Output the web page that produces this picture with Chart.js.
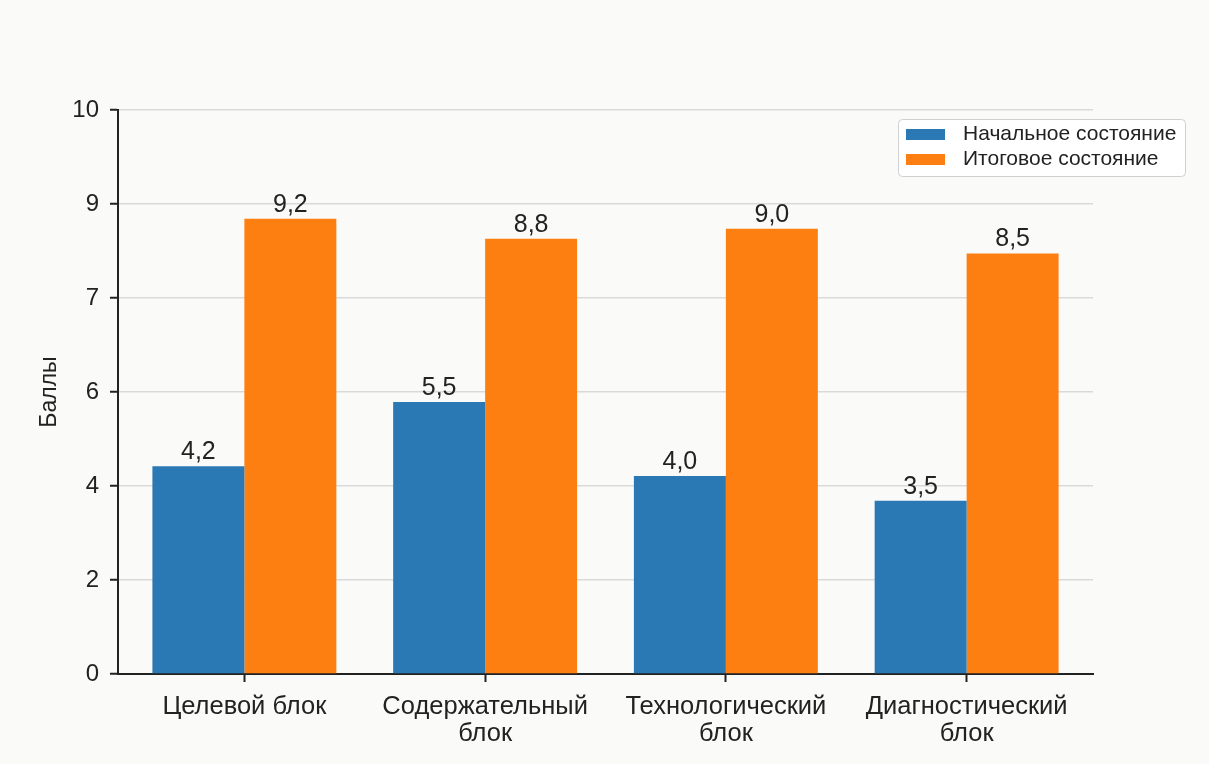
<!DOCTYPE html>
<html lang="ru">
<head>
<meta charset="utf-8">
<title>Баллы по блокам</title>
<script src="https://cdn.jsdelivr.net/npm/chart.js@4.4.1/dist/chart.umd.min.js"></script>
<style>
  html, body { margin: 0; padding: 0; background: #fafaf8; }
  canvas { display: block; }
</style>
</head>
<body>
<canvas id="chart" width="1209" height="764"></canvas>
<script>
// data
const categories = ["Целевой блок", ["Содержательный", "блок"], ["Технологический", "блок"], ["Диагностический", "блок"]];
const seriesNames = ["Начальное состояние", "Итоговое состояние"];
const initialScores = [4.2, 5.5, 4.0, 3.5];
const finalScores = [9.2, 8.8, 9.0, 8.5];
const yTickLabels = ["0", "2", "4", "6", "7", "9", "10"];

const BLUE = "#2a78b4";
const ORANGE = "#fd7f12";
const INK = "#222222";
const FONT = "'Liberation Sans', Arial, sans-serif";

Chart.defaults.font.family = FONT;
Chart.defaults.color = INK;

// numbers above bars, decimal comma
const valueLabels = {
  id: "valueLabels",
  afterDatasetsDraw(chart) {
    const ctx = chart.ctx;
    ctx.save();
    ctx.font = "25px " + FONT;
    ctx.fillStyle = INK;
    ctx.textAlign = "center";
    ctx.textBaseline = "alphabetic";
    chart.data.datasets.forEach((ds, i) => {
      chart.getDatasetMeta(i).data.forEach((bar, j) => {
        ctx.fillText(ds.data[j].toFixed(1).replace(".", ","), bar.x, bar.y - 7);
      });
    });
    ctx.restore();
  }
};

// keep the bar groups a little away from both axis ends
const categoryInset = {
  id: "categoryInset",
  afterLayout(chart) {
    const x = chart.scales.x;
    x._startPixel += 6;
    x._endPixel -= 6;
    x._length = x._endPixel - x._startPixel;
  }
};

// framed legend in the top right corner
const boxLegend = {
  id: "boxLegend",
  afterDraw(chart) {
    const ctx = chart.ctx;
    const x = 898, y = 119, w = 287, h = 57;
    ctx.save();
    ctx.beginPath();
    ctx.roundRect(x + 0.5, y + 0.5, w, h, 4);
    ctx.fillStyle = "rgba(255,255,255,0.9)";
    ctx.fill();
    ctx.strokeStyle = "#d0d0d0";
    ctx.lineWidth = 1;
    ctx.stroke();
    ctx.font = "21px " + FONT;
    ctx.textBaseline = "middle";
    chart.data.datasets.forEach((ds, i) => {
      const cy = y + 15 + i * 25;
      ctx.fillStyle = ds.backgroundColor;
      ctx.fillRect(x + 8, cy - 5, 39, 11);
      ctx.fillStyle = INK;
      ctx.fillText(ds.label, x + 65, cy);
    });
    ctx.restore();
  }
};

new Chart(document.getElementById("chart").getContext("2d"), {
  type: "bar",
  data: {
    labels: categories,
    datasets: [
      { label: seriesNames[0], data: initialScores, backgroundColor: BLUE },
      { label: seriesNames[1], data: finalScores, backgroundColor: ORANGE }
    ]
  },
  options: {
    responsive: false,
    animation: false,
    layout: { padding: { left: 0, right: 116, top: 110, bottom: 0 } },
    datasets: {
      bar: { barPercentage: 1, categoryPercentage: 0.764, borderWidth: 0 }
    },
    plugins: {
      legend: { display: false },
      tooltip: { enabled: false }
    },
    scales: {
      x: {
        grid: { display: true, drawOnChartArea: false, offset: false, tickLength: 8, tickColor: INK, tickWidth: 2 },
        border: { color: INK, width: 2 },
        ticks: { color: INK, font: { size: 25.5, lineHeight: 1.05 }, padding: 12, maxRotation: 0, autoSkip: false },
        afterFit(scale) { scale.height = 90; }
      },
      y: {
        min: 0,
        max: 11.4,
        afterBuildTicks(scale) {
          const n = yTickLabels.length - 1;
          scale.ticks = yTickLabels.map((_, i) => ({ value: scale.max * i / n }));
        },
        ticks: {
          callback: (value, index) => yTickLabels[index],
          color: INK,
          font: { size: 24 },
          padding: 11
        },
        grid: {
          color: (c) => (c.index === 0 ? "rgba(0,0,0,0)" : "#dadada"),
          lineWidth: 1.5,
          tickLength: 8,
          tickColor: INK,
          tickWidth: 2
        },
        border: { color: INK, width: 2 },
        title: { display: true, text: "Баллы", color: INK, font: { size: 23 }, padding: { top: 36, bottom: 0 } },
        afterFit(scale) { scale.width = 118; }
      }
    }
  },
  plugins: [categoryInset, valueLabels, boxLegend]
});
</script>
</body>
</html>
